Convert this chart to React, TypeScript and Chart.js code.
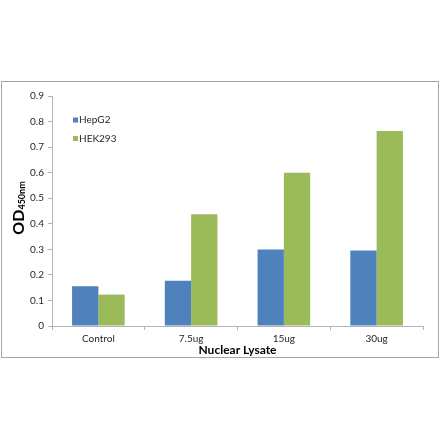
import { useEffect, useRef } from "react";
import { Chart, registerables } from "chart.js";

Chart.register(...registerables);

const categories = ["Control", "7.5ug", "15ug", "30ug"];
const hepg2Values = [0.156, 0.177, 0.299, 0.295];
const hek293Values = [0.123, 0.437, 0.6, 0.763];
const seriesNames = ["HepG2", "HEK293"];
const seriesColors = ["#4F81BD", "#9BBB59"];
const yTitleMain = "OD";
const yTitleSub = "450nm";
const xTitle = "Nuclear Lysate";

const FONT = "Lato, 'Open Sans', sans-serif";
const TEXT = "#262626";
const AXIS = "#b3b3b3";

const decorPlugin = {
  id: "decor",
  beforeDraw(chart: any) {
    const ctx = chart.ctx as CanvasRenderingContext2D;
    ctx.save();
    ctx.strokeStyle = "#a6a6a6";
    ctx.lineWidth = 1;
    ctx.strokeRect(1.5, 81.5, chart.width - 3, 276);
    ctx.restore();
  },
  afterDraw(chart: any) {
    const ctx = chart.ctx as CanvasRenderingContext2D;
    const area = chart.chartArea;
    ctx.save();
    // legend
    ctx.font = `10px ${FONT}`;
    ctx.textBaseline = "middle";
    ctx.textAlign = "left";
    chart.data.datasets.forEach((ds: any, i: number) => {
      const cy = area.top + 24 + i * 18.5;
      const x = area.left + 21;
      ctx.fillStyle = ds.backgroundColor;
      ctx.fillRect(x, cy - 2.5, 5, 5);
      ctx.fillStyle = TEXT;
      ctx.fillText(ds.label, x + 6, cy);
    });
    // y title with subscript
    const cy = (area.top + area.bottom) / 2 - 3;
    ctx.font = `bold 16px ${FONT}`;
    const wMain = ctx.measureText(yTitleMain).width;
    ctx.font = `bold 9px ${FONT}`;
    const wSub = ctx.measureText(yTitleSub).width;
    const total = wMain + wSub;
    ctx.translate(0, cy);
    ctx.rotate(-Math.PI / 2);
    ctx.textBaseline = "alphabetic";
    ctx.fillStyle = "#000";
    ctx.font = `bold 16px ${FONT}`;
    ctx.fillText(yTitleMain, -total / 2, 23.5);
    ctx.font = `bold 9px ${FONT}`;
    ctx.fillText(yTitleSub, -total / 2 + wMain, 25);
    ctx.restore();
  },
};

export default function App() {
  const ref = useRef<HTMLCanvasElement | null>(null);

  useEffect(() => {
    if (!ref.current) return;
    const chart = new Chart(ref.current, {
      type: "bar",
      data: {
        labels: categories,
        datasets: [
          {
            label: seriesNames[0],
            data: hepg2Values,
            backgroundColor: seriesColors[0],
            borderWidth: 0,
          },
          {
            label: seriesNames[1],
            data: hek293Values,
            backgroundColor: seriesColors[1],
            borderWidth: 0,
          },
        ],
      },
      options: {
        animation: false,
        responsive: false,
        maintainAspectRatio: false,
        devicePixelRatio: 1,
        layout: { padding: { left: 0, top: 96, right: 17, bottom: 83 } },
        plugins: {
          legend: { display: false },
          tooltip: { enabled: false },
          title: { display: false },
        },
        datasets: {
          bar: { categoryPercentage: 0.567, barPercentage: 1 },
        },
        scales: {
          x: {
            afterFit: (s: any) => {
              s.height = 32;
            },
            grid: {
              display: true,
              drawOnChartArea: false,
              drawTicks: true,
              tickLength: 4,
              color: AXIS,
            },
            border: { display: true, color: AXIS },
            ticks: {
              color: TEXT,
              font: { family: FONT, size: 10 },
              padding: 3,
              maxRotation: 0,
            },
            title: {
              display: true,
              text: xTitle,
              color: "#000",
              font: { family: FONT, size: 12, weight: "bold" },
              padding: { top: 0, bottom: 1 },
            },
          },
          y: {
            min: 0,
            max: 0.9,
            afterFit: (s: any) => {
              s.width = 52;
            },
            grid: {
              display: true,
              drawOnChartArea: false,
              drawTicks: true,
              tickLength: 4,
              color: AXIS,
            },
            border: { display: true, color: AXIS },
            ticks: {
              stepSize: 0.1,
              color: TEXT,
              font: { family: FONT, size: 10 },
              padding: 4,
            },
          },
        },
      },
      plugins: [decorPlugin],
    });
    return () => chart.destroy();
  }, []);

  return (
    <div style={{ position: "absolute", left: 0, top: 0, width: 440, height: 441 }}>
      <canvas ref={ref} width={440} height={441} style={{ width: 440, height: 441, display: "block" }} />
    </div>
  );
}
